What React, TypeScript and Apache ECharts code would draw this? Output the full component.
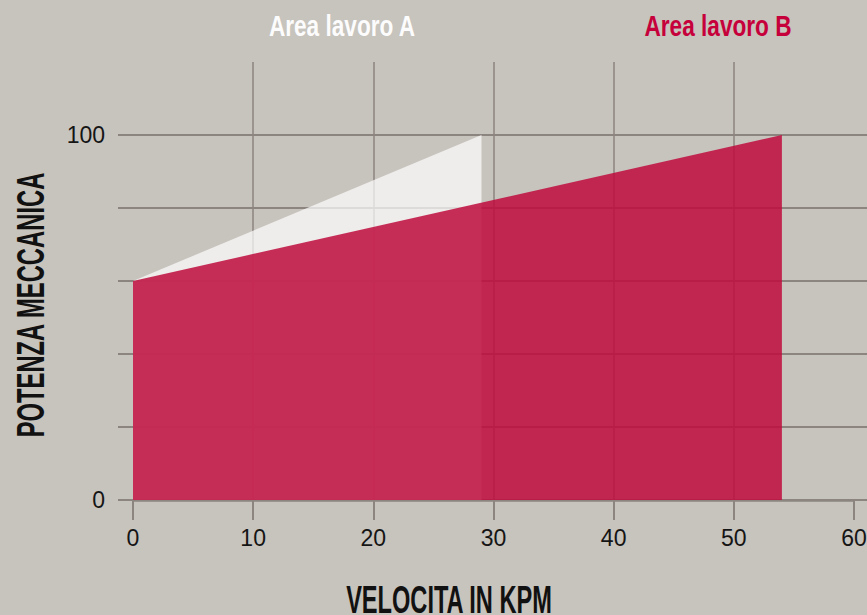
import React, { useEffect, useRef } from "react";
import * as echarts from "echarts";

const seriesNames = ["Area lavoro A", "Area lavoro B"];
const areaA: [number, number][] = [
  [0, 60],
  [29, 100],
];
const areaB: [number, number][] = [
  [0, 60],
  [54, 100],
];
const xTickValues = [0, 10, 20, 30, 40, 50, 60];
const yTickValues = [0, 20, 40, 60, 80, 100];
const yLabelValues = [0, 100];
const xTitle = "VELOCITA IN KPM";
const yTitle = "POTENZA MECCANICA";

const GRID = "#8c857f";
const BG = "#c7c3bd";
const TICKFONT = "'Liberation Sans Narrow', 'Liberation Sans', sans-serif";
const TITLEFONT = "'Liberation Sans', Arial, sans-serif";

export default function App() {
  const ref = useRef<HTMLDivElement>(null);
  useEffect(() => {
    document.body.style.margin = "0";
    document.body.style.background = BG;
    const chart = echarts.init(ref.current!, null, { renderer: "svg" });
    const option: any = {
      animation: false,
      backgroundColor: BG,
      grid: {
        left: 133,
        top: 62,
        width: 721,
        height: 438,
        containLabel: false,
        outerBoundsMode: "none",
      },
      xAxis: {
        type: "value",
        min: 0,
        max: 60,
        interval: 10,
        axisLine: { show: true, lineStyle: { color: GRID, width: 2.5 } },
        axisTick: {
          show: true,
          length: 20,
          customValues: xTickValues,
          lineStyle: { color: GRID, width: 2 },
        },
        axisLabel: {
          customValues: xTickValues,
          margin: 26,
          fontSize: 23,
          fontFamily: TICKFONT,
          color: "#151515",
        },
        splitLine: {
          show: true,
          showMinLine: false,
          showMaxLine: false,
          lineStyle: { color: GRID, width: 1.5 },
        },
      },
      yAxis: [
        {
          type: "value",
          min: 0,
          max: 120,
          interval: 20,
          axisLine: { show: false },
          axisTick: {
            show: true,
            length: 15,
            customValues: yTickValues,
            lineStyle: { color: GRID, width: 2 },
          },
          axisLabel: {
            customValues: yLabelValues,
            margin: 28,
            fontSize: 23,
            fontFamily: TICKFONT,
            color: "#151515",
            padding: [0, 0, 7, 0],
          },
          splitLine: { show: true, lineStyle: { color: GRID, width: 2 } },
        },
        {
          type: "value",
          position: "right",
          min: 0,
          max: 120,
          interval: 20,
          axisLine: { show: false },
          axisTick: {
            show: true,
            length: 13,
            customValues: yTickValues,
            lineStyle: { color: GRID, width: 2 },
          },
          axisLabel: { show: false },
          splitLine: { show: false },
        },
      ],
      series: [
        {
          type: "line",
          name: seriesNames[0],
          data: areaA,
          symbol: "none",
          lineStyle: { width: 0 },
          areaStyle: { color: "#ffffff", opacity: 0.7 },
          z: 3,
        },
        {
          type: "line",
          name: seriesNames[1],
          data: areaB,
          symbol: "none",
          lineStyle: { width: 0 },
          areaStyle: { color: "rgb(190,10,60)", opacity: 0.85 },
          z: 4,
        },
      ],
      graphic: [
        {
          type: "text",
          x: 342,
          y: 26,
          scaleX: 0.78,
          style: {
            text: seriesNames[0],
            font: "bold 29px " + TITLEFONT,
            fill: "#fcfcfc",
            textAlign: "center",
            textVerticalAlign: "middle",
          },
        },
        {
          type: "text",
          x: 718,
          y: 26,
          scaleX: 0.78,
          style: {
            text: seriesNames[1],
            font: "bold 29px " + TITLEFONT,
            fill: "#c6003a",
            textAlign: "center",
            textVerticalAlign: "middle",
          },
        },
        {
          type: "text",
          x: 449,
          y: 600,
          scaleX: 0.605,
          style: {
            text: xTitle,
            font: "bold 39px " + TITLEFONT,
            fill: "#111111",
            textAlign: "center",
            textVerticalAlign: "middle",
          },
        },
        {
          type: "text",
          x: 31,
          y: 305,
          rotation: Math.PI / 2,
          scaleX: 0.61,
          style: {
            text: yTitle,
            font: "bold 39px " + TITLEFONT,
            fill: "#111111",
            textAlign: "center",
            textVerticalAlign: "middle",
          },
        },
      ],
    };
    chart.setOption(option);
    return () => chart.dispose();
  }, []);
  return (
    <div
      ref={ref}
      style={{ position: "absolute", left: 0, top: 0, width: 867, height: 615 }}
    />
  );
}
